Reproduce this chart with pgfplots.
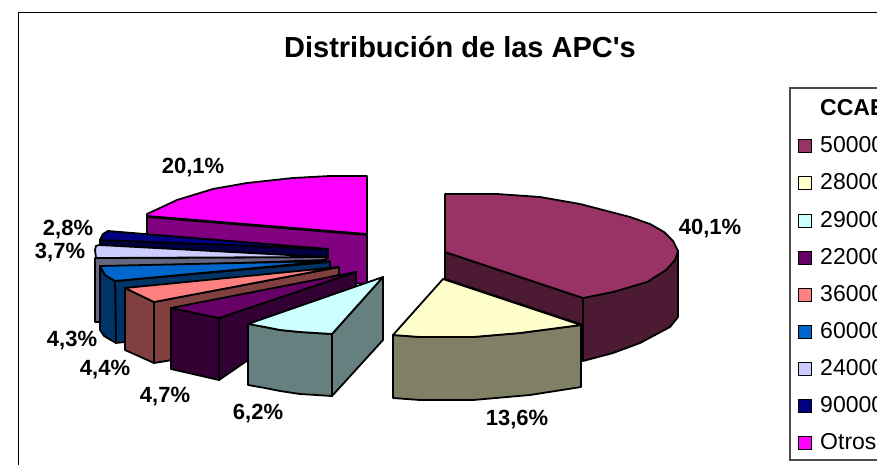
\documentclass[border=0pt]{standalone}
\usepackage{pgfplots}
\pgfplotsset{compat=1.18}
\usepackage{fontspec}
\setmainfont{Liberation Sans}

\definecolor{marT}{HTML}{993366}\definecolor{marS}{HTML}{4D1A33}
\definecolor{yelT}{HTML}{FFFFCC}\definecolor{yelS}{HTML}{808066}
\definecolor{cyaT}{HTML}{CCFFFF}\definecolor{cyaS}{HTML}{668080}
\definecolor{purT}{HTML}{660066}\definecolor{purS}{HTML}{330033}
\definecolor{salT}{HTML}{FF8080}\definecolor{salS}{HTML}{804040}
\definecolor{bluT}{HTML}{0066CC}\definecolor{bluS}{HTML}{003366}
\definecolor{lavT}{HTML}{CCCCFF}\definecolor{lavS}{HTML}{666680}
\definecolor{navT}{HTML}{000080}\definecolor{navS}{HTML}{000040}
\definecolor{magT}{HTML}{FF00FF}\definecolor{magS}{HTML}{800080}

\pgfplotsset{
  face/.style={fill=#1, draw=black, line width=1.8pt, line join=round, mark=none},
  sw/.style={only marks, mark=square*, mark size=6.5pt,
    mark options={fill=#1, draw=black, line width=1.4pt}},
}
\newcommand{\lab}[3]{\node[font=\bfseries\fontsize{22}{22}\selectfont, anchor=center] at (axis cs:#1,#2) {#3};}
\newcommand{\leg}[2]{\node[font=\fontsize{23}{23}\selectfont, anchor=base west, inner sep=0pt] at (axis cs:820,#1) {#2};}

\begin{document}
\begin{tikzpicture}
\useasboundingbox (0,0) rectangle (877pt,465pt);
\clip (0,0) rectangle (877pt,465pt);
\begin{axis}[
  at={(0,0)}, anchor=south west,
  width=877pt, height=465pt, scale only axis,
  xmin=0, xmax=877, ymin=0, ymax=465, y dir=reverse,
  hide axis, clip=false,
]
% chart frame
\addplot[draw=black, line width=1.4pt, mark=none] coordinates {(890,12.5) (18.5,12.5) (18.5,480)};

% Otros
\addplot[face=magS] coordinates {(147,217) (367,235) (367,284) (147,268)} --cycle;
\addplot[face=magT] coordinates {(147,214) (160,208) (177,200) (213,189) (247,183) (293,178) (330,176) (367,176) (367,234) (147,216)} --cycle;
% 90000
\addplot[face=navS] coordinates {(100,240) (328,249) (328,258) (100,248)} --cycle;
\addplot[face=navT] coordinates {(100,240) (103,234) (108,231) (328,249)} --cycle;
% 24000
\addplot[face=lavS] coordinates {(95,258) (326,257) (326,260) (100,268) (100,322) (95,322)} --cycle;
\addplot[face=lavT] coordinates {(95,250) (96,246) (99,245) (326,257) (96,258)} --cycle;
% 60000
\addplot[face=bluS] coordinates {(115,281) (330,262) (330,268) (125,342) (116,343)} --cycle;
\addplot[face=bluS] coordinates {(100,266) (105,275) (115,281) (116,343) (104,336) (100,330)} --cycle;
\addplot[face=bluT] coordinates {(100,266) (105,275) (115,281) (330,261)} --cycle;
% 36000
\addplot[face=salS] coordinates {(154,302) (339,267) (339,275) (172,315) (172,360) (154,363)} --cycle;
\addplot[face=salS] coordinates {(125,288) (154,302) (154,363) (125,350)} --cycle;
\addplot[face=salT] coordinates {(125,288) (154,302) (339,267)} --cycle;
% 22000
\addplot[face=purS] coordinates {(219,318) (356,272) (356,286) (219,380)} --cycle;
\addplot[face=purS] coordinates {(171,308) (219,318) (219,380) (171,369)} --cycle;
\addplot[face=purT] coordinates {(171,308) (219,318) (356,272)} --cycle;
% 29000
\addplot[face=cyaS] coordinates {(332,334) (383,277) (383,340) (332,396)} --cycle;
\addplot[face=cyaS] coordinates {(248,324) (265,327) (280,330) (300,332) (332,334) (332,396) (300,394) (280,391) (265,388) (248,385)} --cycle;
\addplot[face=cyaT] coordinates {(248,324) (265,327) (280,330) (300,332) (332,334) (383,277)} --cycle;
% 50000
\addplot[face=marS] coordinates {(445,252) (583,298) (583,325) (445,279)} --cycle;
\addplot[face=marS] coordinates {(583,298) (613,292) (647,282) (666,270) (675,260) (678,251) (678,317) (670,327) (640,343) (613,353) (583,361)} --cycle;
\addplot[face=marT] coordinates {(445,194) (497,194) (540,197) (580,204) (630,217) (650,224) (664,232) (673,241) (678,251) (675,260) (666,270) (647,282) (613,292) (583,298) (445,252)} --cycle;
% 28000
\addplot[face=yelS] coordinates {(393,335) (420,337) (473,337) (520,333) (581,325) (581,387) (530,395) (473,400) (420,400) (393,398)} --cycle;
\addplot[face=yelT] coordinates {(443,279) (393,335) (420,337) (473,337) (520,333) (581,325)} --cycle;

% legend box
\addplot[draw=black!70, line width=1.4pt, mark=none] coordinates {(890,88) (790,88) (790,460) (890,460)};
\addplot[sw=marT] coordinates {(805,146)};
\addplot[sw=yelT] coordinates {(805,183)};
\addplot[sw=cyaT] coordinates {(805,221)};
\addplot[sw=purT] coordinates {(805,258)};
\addplot[sw=salT] coordinates {(805,295)};
\addplot[sw=bluT] coordinates {(805,332)};
\addplot[sw=lavT] coordinates {(805,369)};
\addplot[sw=navT] coordinates {(805,406)};
\addplot[sw=magT] coordinates {(805,443)};

\node[font=\bfseries\fontsize{29}{29}\selectfont] at (axis cs:460,47) {Distribución de las APC\textquotesingle s};
\lab{193}{168}{20,1\%}
\lab{710}{229}{40,1\%}
\lab{517}{420}{13,6\%}
\lab{258}{414}{6,2\%}
\lab{165}{397}{4,7\%}
\lab{105}{370}{4,4\%}
\lab{72}{341}{4,3\%}
\lab{60}{253}{3,7\%}
\lab{68}{230}{2,8\%}

\node[font=\bfseries\fontsize{23}{23}\selectfont, anchor=base west, inner sep=0pt] at (axis cs:820,116) {CCAE};
\leg{152}{50000}
\leg{189}{28000}
\leg{227}{29000}
\leg{264}{22000}
\leg{301}{36000}
\leg{338}{60000}
\leg{375}{24000}
\leg{412}{90000}
\leg{449}{Otros}
\end{axis}
\end{tikzpicture}
\end{document}
